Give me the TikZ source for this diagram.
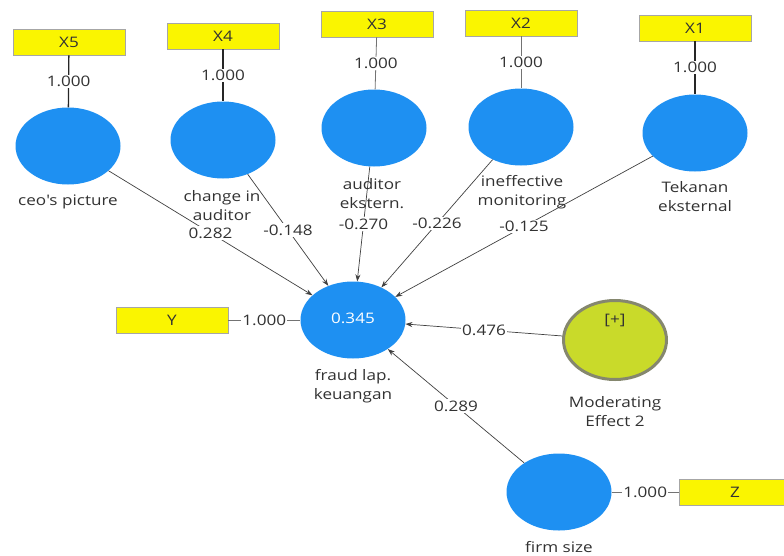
\documentclass[tikz,border=0pt]{standalone}
\usepackage{fontspec}
\setmainfont[FakeStretch=1.18]{Open Sans}
\usetikzlibrary{shapes.geometric,arrows.meta,calc}
\definecolor{plsblue}{RGB}{30,144,242}
\definecolor{plsyellow}{RGB}{250,245,0}
\definecolor{plsgreen}{RGB}{201,218,42}
\definecolor{plsrim}{RGB}{133,135,110}
\definecolor{darktext}{RGB}{50,50,50}
\newcommand\fsz{\fontsize{14.5}{19}\selectfont}
\begin{document}
\begin{tikzpicture}[x=1pt,y=-1pt,
  lv/.style={ellipse, fill=plsblue, minimum width=105pt, minimum height=77pt, inner sep=0pt},
  modlv/.style={ellipse, fill=plsgreen, draw=plsrim, line width=3pt, minimum width=103pt, minimum height=79pt, inner sep=0pt},
  ind/.style={rectangle, fill=plsyellow, draw=black!35, line width=0.6pt, minimum width=112pt, minimum height=26pt, inner sep=0pt, font=\fsz, text=darktext},
  lbl/.style={fill=white, inner sep=1.2pt, font=\fsz, text=darktext},
  captext/.style={align=center, font=\fsz, text=darktext, inner sep=0pt},
  pathc/.style={draw=black!75, line width=0.7pt, -{Stealth[length=7pt,width=5pt]}},
  loadc/.style={draw=black!85, line width=1.3pt},
  loadthin/.style={draw=black!55, line width=0.8pt}]
\useasboundingbox (0,0) rectangle (784,555);

% indicators
\node[ind] (r5) at (69,42) {X5};
\node[ind] (r4) at (223,36) {X4};
\node[ind] (r3) at (377,24) {X3};
\node[ind] (r2) at (521,23) {X2};
\node[ind] (r1) at (695,28) {X1};
\node[ind] (ry) at (172,320) {Y};
\node[ind] (rz) at (735,492) {Z};

% latent variables
\node[lv] (c5) at (68,146) {};
\node[lv] (c4) at (223,140) {};
\node[lv] (c3) at (374,128) {};
\node[lv] (c2) at (521,127) {};
\node[lv] (c1) at (695,133) {};
\node[lv] (cy) at (353,320) {};
\node[modlv] (cm) at (615,340) {};
\node[lv] (cz) at (559,492) {};

% loadings
\draw[loadc] (r5) -- node[lbl] {1.000} (c5);
\draw[loadc] (r4) -- node[lbl] {1.000} (c4);
\draw[loadthin] (r3) -- node[lbl] {1.000} (c3);
\draw[loadthin] (r2) -- node[lbl] {1.000} (c2);
\draw[loadc] (r1) -- node[lbl] {1.000} (c1);
\draw[loadthin] (ry) -- node[lbl] {1.000} (cy);
\draw[loadthin] (cz) -- node[lbl] {1.000} (rz);

% paths
\draw[pathc] (c5) -- (cy);
\draw[pathc] (c4) -- (cy);
\draw[pathc] (c3) -- (cy);
\draw[pathc] (c2) -- (cy);
\draw[pathc] (c1) -- (cy);
\draw[pathc] (cm) -- (cy);
\draw[pathc] (cz) -- (cy);
\node[lbl] (p5) at ($(c5.center)!0.5!(cy.center)$) {0.282};
\node[lbl] (p4) at ($(c4.center)!0.5!(cy.center)$) {-0.148};
\node[lbl] (p3) at ($(c3.center)!0.5!(cy.center)$) {-0.270};
\node[lbl] (p2) at ($(c2.center)!0.5!(cy.center)$) {-0.226};
\node[lbl] (p1) at ($(c1.center)!0.5!(cy.center)$) {-0.125};
\node[lbl] (pm) at ($(cm.center)!0.5!(cy.center)$) {0.476};
\node[lbl] (pz) at ($(cz.center)!0.5!(cy.center)$) {0.289};

% texts
\node[captext, text=white] (vy) at (353,318) {0.345};
\node[captext] (vm) at (615,320) {[+]};
\node[captext] (t5) at (68,202) {ceo\textquotesingle s picture};
\node[captext] (t4) at (222,206) {change in\\auditor};
\node[captext] (t3) at (372,194) {auditor\\ekstern.};
\node[captext] (t2) at (522,192) {ineffective\\monitoring};
\node[captext] (t1) at (695,197) {Tekanan\\eksternal};
\node[captext] (ty) at (353,386) {fraud lap.\\keuangan};
\node[captext] (tm) at (615,412) {Moderating\\Effect 2};
\node[captext] (tz) at (559,547) {firm size};
\end{tikzpicture}
\end{document}
